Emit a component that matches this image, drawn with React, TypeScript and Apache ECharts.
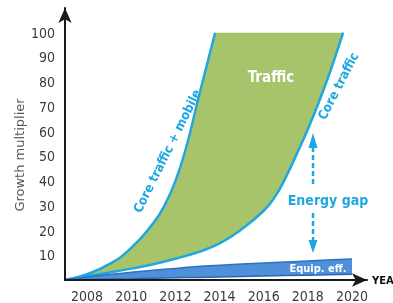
import React, { useEffect, useRef } from "react";
import * as echarts from "echarts";

// Core traffic + mobile (upper curve) until it reaches 100
const coreMobileYears = [2007, 2008, 2009, 2010, 2011, 2011.5, 2012, 2012.5, 2013, 2013.4, 2013.8];
const coreMobileValues = [0, 2.4, 6.4, 13, 23, 30, 40, 54, 72, 86, 100];
// Traffic plateau (chart capped at 100)
const plateauYears = [2013.4, 2013.8, 2019.6];
const plateauValues = [86, 100, 100];
// Core traffic (lower curve)
const coreYears = [2007, 2008, 2009, 2010, 2011, 2012, 2013, 2014, 2015, 2016, 2016.5, 2017, 2017.5, 2018, 2018.5, 2019, 2019.6];
const coreValues = [0, 1.5, 3, 4.6, 6.4, 8.6, 11.2, 14.8, 20.5, 28, 33.5, 41.5, 51, 61, 72, 84, 100];
// Equipment efficiency band
const equipYears = [2007, 2008, 2009, 2010, 2011, 2012, 2013, 2014, 2016, 2018, 2020];
const equipLower = [0, 0.2, 0.35, 0.5, 0.7, 0.9, 1.05, 1.25, 1.6, 1.95, 2.3];
const equipUpper = [0, 1.2, 2.2, 3.1, 3.9, 4.7, 5.5, 6.0, 6.9, 7.7, 8.5];

const yTickLabels = [10, 20, 30, 40, 50, 60, 70, 80, 90, 100];
const xTickLabels = [2008, 2010, 2012, 2014, 2016, 2018, 2020];

const CYAN = "#1ea7e1";
const GREEN = "#a7c46b";
const COND = "'DejaVu Sans Condensed', 'Liberation Sans Narrow', 'Roboto Condensed', sans-serif";

const pairs = (xs: number[], ys: number[]) => xs.map((x, i) => [x, ys[i]]);

export default function App() {
  const ref = useRef<HTMLDivElement>(null);
  useEffect(() => {
    if (!ref.current) return;
    const chart = echarts.init(ref.current, undefined, { renderer: "svg" });
    // white cover under the core-traffic curve, reaching a little past its end
    const coverData = pairs(coreYears, coreValues).concat([[2019.75, 104]]);
    chart.setOption({
      animation: false,
      grid: { left: 65, right: 26, top: 8, bottom: 23, outerBoundsMode: "none", containLabel: false },
      xAxis: {
        type: "value",
        min: 2007,
        max: 2020.68,
        interval: 1,
        z: 10,
        name: "YEAR",
        nameLocation: "end",
        nameGap: 5,
        nameTextStyle: { color: "#111", fontSize: 10, fontWeight: "bold", fontFamily: "'DejaVu Sans', sans-serif", verticalAlign: "middle" },
        axisLine: { show: true, lineStyle: { color: "#1a1a1a", width: 2 }, symbol: ["none", "arrow"], symbolSize: [10, 15] },
        axisTick: { show: false },
        splitLine: { show: false },
        axisLabel: {
          margin: 9,
          color: "#3c3c3c",
          fontSize: 14,
          fontFamily: COND,
          formatter: (v: number) => {
            const r = Math.round(v);
            return Math.abs(v - r) < 1e-6 && xTickLabels.includes(r) ? String(r) : "";
          },
        },
      },
      yAxis: {
        type: "value",
        min: 0,
        max: 110,
        interval: 10,
        z: 10,
        axisLine: { show: true, lineStyle: { color: "#1a1a1a", width: 2 }, symbol: ["none", "arrow"], symbolSize: [10, 15] },
        axisTick: { show: false },
        splitLine: { show: false },
        axisLabel: {
          margin: 10,
          color: "#3c3c3c",
          fontSize: 14,
          fontFamily: COND,
          formatter: (v: number) => (yTickLabels.includes(Math.round(v)) && Math.abs(v - Math.round(v)) < 1e-6 ? String(v) : ""),
        },
      },
      series: [
        {
          name: "Plateau",
          type: "line",
          data: pairs(plateauYears, plateauValues),
          symbol: "none",
          lineStyle: { width: 0 },
          areaStyle: { color: GREEN, opacity: 1 },
        },
        {
          name: "Core traffic + mobile",
          type: "line",
          data: pairs(coreMobileYears, coreMobileValues),
          smooth: 0.5,
          symbol: "none",
          lineStyle: { color: CYAN, width: 2.5 },
          areaStyle: { color: GREEN, opacity: 1 },
        },
        {
          name: "cover",
          type: "line",
          data: coverData,
          smooth: 0.5,
          symbol: "none",
          lineStyle: { width: 0 },
          areaStyle: { color: "#ffffff", opacity: 1 },
        },
        {
          name: "Core traffic",
          type: "line",
          data: pairs(coreYears, coreValues),
          smooth: 0.5,
          symbol: "none",
          lineStyle: { color: CYAN, width: 2.5 },
        },
        {
          name: "Equip. eff.",
          type: "line",
          data: pairs(equipYears, equipUpper),
          smooth: 0.3,
          symbol: "none",
          lineStyle: { color: "#2c72c4", width: 1.5 },
          areaStyle: { color: "#4f90d8", opacity: 1 },
        },
        {
          name: "equip-base",
          type: "line",
          data: pairs(equipYears, equipLower),
          smooth: 0.3,
          symbol: "none",
          lineStyle: { color: "#2a66b5", width: 1.5 },
          areaStyle: { color: "#ffffff", opacity: 1 },
        },
      ],
      graphic: [
        {
          type: "text", z: 100, x: 19, y: 155, rotation: Math.PI / 2,
          style: { text: "Growth multiplier", fill: "#555", fontSize: 13, fontFamily: "'DejaVu Sans', sans-serif", align: "center", verticalAlign: "middle" },
        },
        {
          type: "text", z: 100, x: 271, y: 77,
          style: { text: "Traffic", fill: "#ffffff", fontSize: 15, fontWeight: "bold", fontFamily: COND, align: "center", verticalAlign: "middle" },
        },
        {
          type: "text", z: 100, x: 167, y: 151, rotation: (63.5 * Math.PI) / 180,
          style: { text: "Core traffic + mobile", fill: CYAN, fontSize: 13, fontWeight: "bold", fontFamily: COND, align: "center", verticalAlign: "middle" },
        },
        {
          type: "text", z: 100, x: 338, y: 86, rotation: (62.8 * Math.PI) / 180,
          style: { text: "Core traffic", fill: CYAN, fontSize: 13, fontWeight: "bold", fontFamily: COND, align: "center", verticalAlign: "middle" },
        },
        {
          type: "text", z: 100, x: 328, y: 200,
          style: { text: "Energy gap", fill: CYAN, fontSize: 14, fontWeight: "bold", fontFamily: COND, align: "center", verticalAlign: "middle" },
        },
        {
          type: "text", z: 100, x: 318, y: 268,
          style: { text: "Equip. eff.", fill: "#ffffff", fontSize: 11, fontWeight: "bold", fontFamily: COND, align: "center", verticalAlign: "middle" },
        },
        {
          type: "line", z: 100,
          shape: { x1: 313, y1: 147, x2: 313, y2: 186 },
          style: { stroke: CYAN, lineWidth: 2.5, lineDash: [5, 3] },
        },
        {
          type: "line", z: 100,
          shape: { x1: 313, y1: 213, x2: 313, y2: 242 },
          style: { stroke: CYAN, lineWidth: 2.5, lineDash: [5, 3] },
        },
        {
          type: "polygon", z: 100,
          shape: { points: [[313, 133], [308.5, 148], [317.5, 148]] },
          style: { fill: CYAN },
        },
        {
          type: "polygon", z: 100,
          shape: { points: [[313, 253], [308.5, 240], [317.5, 240]] },
          style: { fill: CYAN },
        },
      ],
    });
    return () => chart.dispose();
  }, []);
  return <div ref={ref} style={{ position: "fixed", left: 0, top: 0, width: 393, height: 303 }} />;
}
